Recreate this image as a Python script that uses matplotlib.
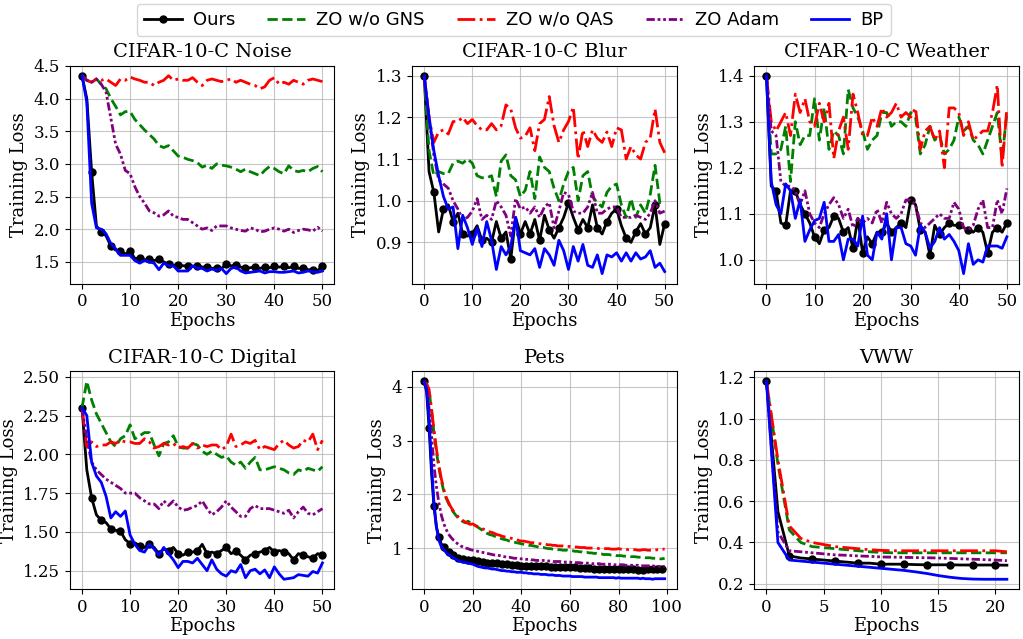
import numpy as np
import matplotlib
matplotlib.use("Agg")
import matplotlib.pyplot as plt
from matplotlib.ticker import MultipleLocator

plt.rcParams['font.family'] = 'DejaVu Serif'

LABELS = ["Ours", "ZO w/o GNS", "ZO w/o QAS", "ZO Adam", "BP"]
TITLES = ["CIFAR-10-C Noise", "CIFAR-10-C Blur", "CIFAR-10-C Weather",
          "CIFAR-10-C Digital", "Pets", "VWW"]
# tick spacing per panel (x, y)
X_STEPS = [10, 10, 10, 10, 20, 5]
Y_STEPS = [0.5, 0.1, 0.1, 0.25, 1, 0.2]

# CIFAR-10-C Noise, epochs 0..50
NOISE_OURS = [4.35, 4.00, 2.88, 2.05, 1.96, 1.90, 1.74, 1.68, 1.67, 1.62, 1.67, 1.55, 1.56, 1.53, 1.54, 1.52, 1.54,
              1.50, 1.46, 1.45, 1.45, 1.44, 1.44, 1.43, 1.44, 1.42, 1.42, 1.40, 1.41, 1.40, 1.46, 1.44, 1.45, 1.42,
              1.40, 1.41, 1.42, 1.40, 1.42, 1.41, 1.43, 1.42, 1.43, 1.41, 1.43, 1.40, 1.41, 1.38, 1.38, 1.37, 1.43]
NOISE_GNS = [4.35, 4.28, 4.25, 4.30, 4.22, 4.15, 4.00, 3.88, 3.75, 3.80, 3.80, 3.68, 3.60, 3.52, 3.45, 3.38, 3.28,
             3.25, 3.28, 3.20, 3.12, 3.10, 3.07, 3.05, 3.02, 2.95, 2.98, 2.93, 3.00, 2.98, 2.97, 2.95, 2.92, 2.88,
             2.92, 2.88, 2.85, 2.82, 2.90, 2.96, 2.93, 2.88, 2.85, 2.97, 2.90, 2.88, 2.90, 2.88, 2.93, 2.96, 2.88]
NOISE_QAS = [4.35, 4.28, 4.25, 4.30, 4.28, 4.30, 4.25, 4.20, 4.30, 4.28, 4.33, 4.30, 4.28, 4.25, 4.25, 4.20, 4.25,
             4.28, 4.35, 4.28, 4.30, 4.28, 4.28, 4.32, 4.25, 4.20, 4.28, 4.30, 4.28, 4.26, 4.28, 4.30, 4.25, 4.28,
             4.25, 4.22, 4.20, 4.15, 4.18, 4.28, 4.32, 4.22, 4.25, 4.22, 4.28, 4.25, 4.22, 4.28, 4.30, 4.28, 4.26]
NOISE_ADAM = [4.35, 4.28, 4.25, 4.30, 4.22, 4.10, 3.70, 3.30, 3.15, 2.90, 2.85, 2.65, 2.50, 2.40, 2.28, 2.25, 2.20,
              2.22, 2.28, 2.20, 2.18, 2.15, 2.15, 2.10, 2.05, 2.00, 2.02, 1.98, 2.05, 2.05, 2.05, 2.02, 2.00, 1.98,
              1.97, 2.02, 2.00, 1.96, 1.97, 2.00, 2.02, 2.00, 1.97, 2.00, 1.95, 1.98, 2.00, 1.99, 1.97, 2.03, 1.97]
NOISE_BP = [4.35, 3.95, 2.40, 2.02, 2.00, 1.93, 1.78, 1.70, 1.60, 1.60, 1.60, 1.52, 1.48, 1.52, 1.50, 1.48, 1.38,
            1.48, 1.44, 1.44, 1.36, 1.36, 1.36, 1.44, 1.40, 1.40, 1.36, 1.39, 1.37, 1.40, 1.32, 1.40, 1.42, 1.36,
            1.33, 1.34, 1.35, 1.36, 1.33, 1.35, 1.35, 1.34, 1.34, 1.35, 1.36, 1.33, 1.34, 1.36, 1.35, 1.34, 1.36]

# CIFAR-10-C Blur
BLUR_OURS = [1.30, 1.07, 1.02, 0.925, 0.98, 0.99, 0.95, 0.97, 0.92, 0.915, 0.92, 0.94, 0.905, 0.91, 0.90, 0.95,
             0.91, 0.925, 0.86, 0.96, 0.92, 0.95, 0.92, 0.955, 0.905, 0.965, 0.93, 0.91, 0.935, 0.96, 0.995, 0.96,
             0.93, 0.955, 0.935, 0.99, 0.935, 0.92, 0.95, 0.97, 0.98, 0.94, 0.91, 0.90, 0.925, 0.945, 0.92, 0.935,
             0.99, 0.895, 0.945]
BLUR_GNS = [1.30, 1.12, 1.06, 1.07, 1.065, 1.065, 1.09, 1.095, 1.09, 1.10, 1.09, 1.06, 1.055, 1.055, 1.06, 1.01,
            1.095, 1.11, 1.06, 1.05, 1.01, 1.025, 1.07, 1.005, 1.105, 1.08, 1.07, 1.03, 1.00, 1.04, 1.07, 1.08, 1.00,
            1.06, 1.07, 1.01, 0.995, 0.985, 1.02, 1.035, 1.04, 0.99, 0.96, 1.005, 0.96, 0.99, 0.97, 1.015, 1.085,
            0.995, 1.00]
BLUR_QAS = [1.30, 1.20, 1.14, 1.165, 1.17, 1.16, 1.19, 1.19, 1.20, 1.185, 1.195, 1.18, 1.17, 1.17, 1.185, 1.17,
            1.18, 1.23, 1.22, 1.175, 1.15, 1.155, 1.175, 1.12, 1.185, 1.195, 1.25, 1.18, 1.14, 1.17, 1.19, 1.225,
            1.10, 1.17, 1.13, 1.17, 1.15, 1.14, 1.165, 1.13, 1.175, 1.17, 1.10, 1.13, 1.11, 1.10, 1.14, 1.15, 1.22,
            1.14, 1.115]
BLUR_ADAM = [1.30, 1.20, 1.11, 1.05, 1.04, 1.03, 1.00, 0.98, 0.955, 0.96, 0.975, 1.005, 0.955, 0.965, 0.955, 1.00,
             0.985, 0.965, 0.915, 1.005, 0.98, 0.985, 0.97, 0.985, 0.96, 0.985, 0.995, 0.935, 0.975, 1.02, 1.015,
             0.975, 0.97, 0.97, 0.985, 1.02, 0.97, 0.97, 0.98, 0.985, 0.985, 0.96, 0.96, 0.96, 0.965, 0.96, 0.955,
             0.97, 1.00, 0.97, 0.975]
BLUR_BP = [1.30, 1.20, 1.12, 1.06, 1.01, 0.98, 0.985, 0.885, 0.965, 0.935, 0.895, 0.935, 0.89, 0.95, 0.905, 0.835,
           0.89, 0.87, 0.89, 0.96, 0.88, 0.875, 0.87, 0.885, 0.84, 0.885, 0.87, 0.845, 0.905, 0.88, 0.835, 0.89,
           0.855, 0.895, 0.845, 0.84, 0.87, 0.825, 0.87, 0.865, 0.875, 0.855, 0.875, 0.855, 0.875, 0.86, 0.865, 0.88,
           0.84, 0.85, 0.83]

# CIFAR-10-C Weather
WEATHER_OURS = [1.40, 1.16, 1.15, 1.08, 1.075, 1.15, 1.15, 1.12, 1.10, 1.08, 1.05, 1.035, 1.065, 1.07, 1.095, 1.09,
                1.06, 1.07, 1.025, 1.09, 1.015, 1.05, 1.035, 1.06, 1.06, 1.08, 1.06, 1.07, 1.08, 1.07, 1.13, 1.12,
                1.065, 1.06, 1.01, 1.075, 1.055, 1.07, 1.08, 1.075, 1.075, 1.07, 1.065, 1.06, 1.07, 1.06, 1.015,
                1.06, 1.07, 1.06, 1.08]
WEATHER_GNS = [1.40, 1.23, 1.23, 1.24, 1.29, 1.17, 1.30, 1.25, 1.27, 1.27, 1.35, 1.26, 1.33, 1.24, 1.28, 1.27, 1.23,
               1.37, 1.33, 1.31, 1.28, 1.24, 1.26, 1.27, 1.32, 1.32, 1.29, 1.30, 1.30, 1.29, 1.32, 1.31, 1.23, 1.25,
               1.29, 1.26, 1.27, 1.23, 1.24, 1.26, 1.31, 1.28, 1.29, 1.26, 1.25, 1.23, 1.26, 1.29, 1.32, 1.22, 1.32]
WEATHER_QAS = [1.40, 1.30, 1.28, 1.30, 1.32, 1.27, 1.36, 1.32, 1.35, 1.30, 1.29, 1.34, 1.30, 1.34, 1.22, 1.28, 1.31,
               1.24, 1.36, 1.32, 1.27, 1.27, 1.31, 1.29, 1.33, 1.31, 1.32, 1.34, 1.31, 1.32, 1.31, 1.33, 1.24, 1.28,
               1.29, 1.26, 1.28, 1.20, 1.33, 1.33, 1.32, 1.27, 1.30, 1.26, 1.27, 1.28, 1.28, 1.32, 1.38, 1.20, 1.33]
WEATHER_ADAM = [1.40, 1.28, 1.27, 1.17, 1.16, 1.16, 1.15, 1.12, 1.15, 1.10, 1.08, 1.07, 1.10, 1.12, 1.135, 1.12,
                1.09, 1.11, 1.07, 1.09, 1.08, 1.09, 1.08, 1.11, 1.08, 1.125, 1.10, 1.09, 1.10, 1.13, 1.13, 1.12,
                1.08, 1.07, 1.08, 1.09, 1.10, 1.09, 1.09, 1.125, 1.11, 1.07, 1.065, 1.075, 1.11, 1.13, 1.07, 1.07,
                1.13, 1.10, 1.155]
WEATHER_BP = [1.40, 1.17, 1.12, 1.10, 1.165, 1.15, 1.09, 1.13, 1.04, 1.065, 1.085, 1.09, 1.125, 1.04, 1.04, 1.055,
              1.00, 1.045, 1.045, 1.03, 1.095, 1.01, 1.00, 1.06, 1.045, 1.10, 1.00, 1.07, 1.07, 1.035, 1.03, 1.01,
              1.075, 1.06, 1.025, 1.04, 1.07, 1.045, 1.055, 1.04, 1.02, 0.97, 1.035, 0.99, 1.00, 0.995, 1.03, 1.03,
              1.03, 1.025, 1.05]

# CIFAR-10-C Digital
DIGITAL_OURS = [2.30, 1.90, 1.72, 1.61, 1.575, 1.56, 1.52, 1.51, 1.505, 1.45, 1.425, 1.43, 1.41, 1.40, 1.42, 1.40,
                1.36, 1.39, 1.38, 1.40, 1.36, 1.35, 1.37, 1.37, 1.38, 1.42, 1.36, 1.37, 1.36, 1.38, 1.40, 1.36, 1.375,
                1.35, 1.32, 1.35, 1.36, 1.37, 1.38, 1.40, 1.37, 1.38, 1.37, 1.36, 1.32, 1.36, 1.35, 1.34, 1.33, 1.36,
                1.35]
DIGITAL_GNS = [2.30, 2.47, 2.35, 2.26, 2.20, 2.14, 2.08, 2.05, 2.10, 2.12, 2.19, 2.10, 2.12, 2.14, 2.14, 2.06, 1.99,
               2.07, 2.08, 2.12, 2.05, 2.04, 2.04, 2.07, 2.06, 2.02, 2.00, 2.02, 2.00, 1.98, 1.99, 1.95, 1.93, 1.95,
               1.91, 1.95, 1.98, 1.90, 1.90, 1.91, 1.92, 1.91, 1.90, 1.88, 1.87, 1.90, 1.89, 1.91, 1.90, 1.89, 1.92]
DIGITAL_QAS = [2.30, 2.05, 2.08, 2.05, 2.06, 2.06, 2.08, 2.07, 2.09, 2.08, 2.08, 2.07, 2.07, 2.10, 2.08, 2.04, 2.05,
               2.07, 2.06, 2.07, 2.04, 2.05, 2.04, 2.07, 2.04, 2.06, 2.05, 2.06, 2.06, 2.03, 2.05, 2.13, 2.05, 2.06,
               2.08, 2.07, 2.09, 2.03, 2.05, 2.04, 2.03, 2.07, 2.09, 2.06, 2.04, 2.05, 2.09, 2.08, 2.13, 2.03, 2.09]
DIGITAL_ADAM = [2.30, 2.10, 1.95, 1.90, 1.87, 1.84, 1.82, 1.80, 1.78, 1.75, 1.75, 1.75, 1.72, 1.70, 1.68, 1.68, 1.65,
                1.70, 1.67, 1.70, 1.66, 1.64, 1.645, 1.66, 1.67, 1.70, 1.65, 1.61, 1.63, 1.66, 1.70, 1.66, 1.63, 1.60,
                1.60, 1.65, 1.67, 1.65, 1.65, 1.65, 1.64, 1.63, 1.62, 1.64, 1.59, 1.63, 1.66, 1.62, 1.61, 1.63, 1.65]
DIGITAL_BP = [2.30, 2.25, 1.95, 1.86, 1.82, 1.73, 1.59, 1.63, 1.60, 1.635, 1.48, 1.42, 1.38, 1.37, 1.42, 1.39, 1.35,
              1.40, 1.36, 1.32, 1.27, 1.31, 1.31, 1.30, 1.33, 1.29, 1.25, 1.32, 1.26, 1.23, 1.215, 1.25, 1.24, 1.29,
              1.205, 1.25, 1.26, 1.23, 1.255, 1.205, 1.275, 1.23, 1.195, 1.20, 1.205, 1.225, 1.22, 1.215, 1.245,
              1.235, 1.30]

# Pets, epochs 0..99
PETS_OURS = [4.10, 3.90, 3.24, 2.40, 1.78, 1.40, 1.20, 1.08, 1.02, 0.97,
             0.93, 0.90, 0.87, 0.84, 0.82, 0.81, 0.80, 0.79, 0.78, 0.77,
             0.77, 0.76, 0.76, 0.75, 0.74, 0.74, 0.73, 0.74, 0.73, 0.72,
             0.72, 0.71, 0.71, 0.70, 0.70, 0.69, 0.69, 0.68, 0.68, 0.68,
             0.67, 0.68, 0.67, 0.66, 0.67, 0.66, 0.66, 0.65, 0.66, 0.65,
             0.66, 0.66, 0.65, 0.64, 0.65, 0.64, 0.64, 0.65, 0.64, 0.63,
             0.64, 0.63, 0.64, 0.63, 0.63, 0.62, 0.63, 0.62, 0.63, 0.62,
             0.62, 0.63, 0.62, 0.61, 0.62, 0.62, 0.61, 0.62, 0.61, 0.61,
             0.62, 0.61, 0.61, 0.62, 0.61, 0.60, 0.61, 0.60, 0.60, 0.61,
             0.60, 0.61, 0.61, 0.60, 0.61, 0.60, 0.61, 0.62, 0.61, 0.62]
PETS_GNS = [4.10, 4.05, 3.93, 3.55, 3.15, 2.80, 2.50, 2.26, 2.07, 1.93,
            1.83, 1.74, 1.67, 1.61, 1.56, 1.52, 1.49, 1.47, 1.50, 1.47,
            1.44, 1.42, 1.39, 1.36, 1.33, 1.30, 1.27, 1.25, 1.24, 1.22,
            1.20, 1.19, 1.17, 1.16, 1.15, 1.13, 1.12, 1.11, 1.10, 1.09,
            1.08, 1.07, 1.06, 1.05, 1.05, 1.04, 1.03, 1.02, 1.01, 1.01,
            1.00, 0.99, 0.99, 0.98, 0.98, 0.97, 0.97, 0.96, 0.96, 0.96,
            0.95, 0.95, 0.94, 0.94, 0.93, 0.93, 0.92, 0.92, 0.91, 0.91,
            0.90, 0.90, 0.89, 0.89, 0.88, 0.88, 0.88, 0.87, 0.87, 0.86,
            0.86, 0.86, 0.85, 0.85, 0.85, 0.84, 0.84, 0.84, 0.83, 0.83,
            0.83, 0.82, 0.82, 0.82, 0.81, 0.81, 0.81, 0.80, 0.80, 0.81]
PETS_QAS = [4.10, 4.05, 3.95, 3.60, 3.20, 2.85, 2.55, 2.30, 2.10, 1.95,
            1.85, 1.76, 1.69, 1.63, 1.58, 1.54, 1.51, 1.48, 1.46, 1.44,
            1.45, 1.42, 1.40, 1.39, 1.36, 1.34, 1.32, 1.30, 1.29, 1.27,
            1.25, 1.24, 1.22, 1.21, 1.20, 1.19, 1.18, 1.17, 1.16, 1.14,
            1.13, 1.13, 1.12, 1.11, 1.10, 1.10, 1.09, 1.08, 1.08, 1.07,
            1.07, 1.06, 1.06, 1.05, 1.05, 1.04, 1.04, 1.04, 1.03, 1.03,
            1.03, 1.02, 1.02, 1.02, 1.01, 1.01, 1.01, 1.00, 1.00, 1.00,
            1.00, 1.00, 0.99, 0.99, 0.99, 0.99, 0.99, 0.98, 0.98, 0.98,
            0.99, 0.98, 0.98, 0.98, 0.97, 0.97, 0.97, 0.97, 0.96, 0.96,
            0.97, 0.97, 0.96, 0.96, 0.96, 0.96, 0.97, 0.97, 0.98, 0.98]
PETS_ADAM = [4.10, 3.95, 3.60, 3.10, 2.55, 2.15, 1.85, 1.62, 1.46, 1.35,
             1.26, 1.20, 1.15, 1.11, 1.07, 1.04, 1.02, 1.00, 0.99, 0.97,
             0.96, 0.95, 0.94, 0.93, 0.92, 0.91, 0.90, 0.89, 0.88, 0.87,
             0.87, 0.86, 0.85, 0.84, 0.83, 0.83, 0.82, 0.81, 0.81, 0.80,
             0.80, 0.80, 0.79, 0.79, 0.78, 0.78, 0.77, 0.77, 0.77, 0.77,
             0.76, 0.76, 0.76, 0.75, 0.75, 0.75, 0.75, 0.74, 0.74, 0.74,
             0.74, 0.73, 0.73, 0.73, 0.73, 0.72, 0.72, 0.72, 0.72, 0.71,
             0.71, 0.71, 0.71, 0.70, 0.70, 0.70, 0.70, 0.70, 0.69, 0.69,
             0.69, 0.69, 0.69, 0.68, 0.68, 0.68, 0.68, 0.68, 0.68, 0.67,
             0.67, 0.67, 0.67, 0.67, 0.67, 0.66, 0.66, 0.66, 0.66, 0.66]
PETS_BP = [4.10, 3.95, 3.40, 2.55, 1.85, 1.40, 1.15, 1.03, 0.97, 0.92,
           0.88, 0.85, 0.82, 0.79, 0.77, 0.75, 0.74, 0.73, 0.72, 0.71,
           0.70, 0.68, 0.66, 0.65, 0.64, 0.63, 0.63, 0.62, 0.61, 0.61,
           0.60, 0.59, 0.58, 0.58, 0.57, 0.57, 0.56, 0.56, 0.55, 0.55,
           0.55, 0.54, 0.54, 0.53, 0.53, 0.52, 0.52, 0.52, 0.51, 0.51,
           0.51, 0.50, 0.50, 0.50, 0.49, 0.49, 0.49, 0.48, 0.48, 0.48,
           0.48, 0.47, 0.47, 0.47, 0.47, 0.47, 0.46, 0.46, 0.46, 0.46,
           0.46, 0.46, 0.45, 0.45, 0.45, 0.45, 0.45, 0.45, 0.45, 0.44,
           0.45, 0.44, 0.44, 0.44, 0.44, 0.44, 0.44, 0.44, 0.44, 0.43,
           0.44, 0.43, 0.43, 0.43, 0.42, 0.43, 0.43, 0.43, 0.43, 0.43]

# VWW, epochs 0..21
VWW_OURS = [1.18, 0.55, 0.335, 0.325, 0.32, 0.315, 0.31, 0.305, 0.30, 0.30, 0.295, 0.295, 0.295, 0.293, 0.292,
            0.292, 0.292, 0.291, 0.291, 0.291, 0.291, 0.29]
VWW_GNS = [1.18, 0.78, 0.46, 0.40, 0.38, 0.375, 0.37, 0.365, 0.36, 0.355, 0.352, 0.35, 0.35, 0.35, 0.35, 0.35,
           0.35, 0.35, 0.35, 0.35, 0.35, 0.35]
VWW_QAS = [1.18, 0.80, 0.48, 0.42, 0.40, 0.39, 0.38, 0.375, 0.37, 0.365, 0.362, 0.36, 0.36, 0.36, 0.36, 0.36,
           0.36, 0.36, 0.36, 0.36, 0.36, 0.355]
VWW_ADAM = [1.18, 0.45, 0.36, 0.355, 0.35, 0.345, 0.34, 0.338, 0.335, 0.333, 0.33, 0.329, 0.328, 0.327, 0.326,
            0.325, 0.323, 0.321, 0.319, 0.317, 0.315, 0.312]
VWW_BP = [1.18, 0.40, 0.315, 0.31, 0.305, 0.30, 0.295, 0.29, 0.285, 0.28, 0.275, 0.27, 0.265, 0.258, 0.25, 0.24,
          0.232, 0.226, 0.223, 0.222, 0.222, 0.222]

PANELS = [
    [NOISE_OURS, NOISE_GNS, NOISE_QAS, NOISE_ADAM, NOISE_BP],
    [BLUR_OURS, BLUR_GNS, BLUR_QAS, BLUR_ADAM, BLUR_BP],
    [WEATHER_OURS, WEATHER_GNS, WEATHER_QAS, WEATHER_ADAM, WEATHER_BP],
    [DIGITAL_OURS, DIGITAL_GNS, DIGITAL_QAS, DIGITAL_ADAM, DIGITAL_BP],
    [PETS_OURS, PETS_GNS, PETS_QAS, PETS_ADAM, PETS_BP],
    [VWW_OURS, VWW_GNS, VWW_QAS, VWW_ADAM, VWW_BP],
]

STYLES = [
    dict(color="black", linestyle="-", marker="o", markersize=5, markevery=2),
    dict(color="green", linestyle="--"),
    dict(color="red", linestyle="-."),
    dict(color="purple", linestyle=(0, (3, 1, 1, 1, 1, 1))),
    dict(color="blue", linestyle="-"),
]

fig, axes = plt.subplots(2, 3, figsize=(10.23, 6.39), dpi=100)
fig.subplots_adjust(left=0.0684, right=0.996, top=0.897, bottom=0.078, wspace=0.294, hspace=0.404)

for ax, title, series, xs, ys in zip(axes.flat, TITLES, PANELS, X_STEPS, Y_STEPS):
    for vals, style, label in zip(series, STYLES, LABELS):
        ax.plot(np.arange(len(vals)), vals, linewidth=2, label=label, **style)
    ax.set_title(title, fontsize=14)
    ax.set_xlabel("Epochs", fontsize=13, labelpad=1)
    ax.set_ylabel("Training Loss", fontsize=13)
    ax.xaxis.set_major_locator(MultipleLocator(xs))
    ax.yaxis.set_major_locator(MultipleLocator(ys))
    ax.tick_params(labelsize=12)
    ax.grid(True, color="#b0b0b0", alpha=0.7)

handles, labels = axes[0, 0].get_legend_handles_labels()
fig.legend(handles, labels, loc="upper center", ncol=5, bbox_to_anchor=(0.502, 1.0),
           prop={"family": "DejaVu Sans", "size": 13},
           columnspacing=1.8, handlelength=2.1, handletextpad=0.6, borderaxespad=0.2)

fig.savefig("out.png", dpi=100)
